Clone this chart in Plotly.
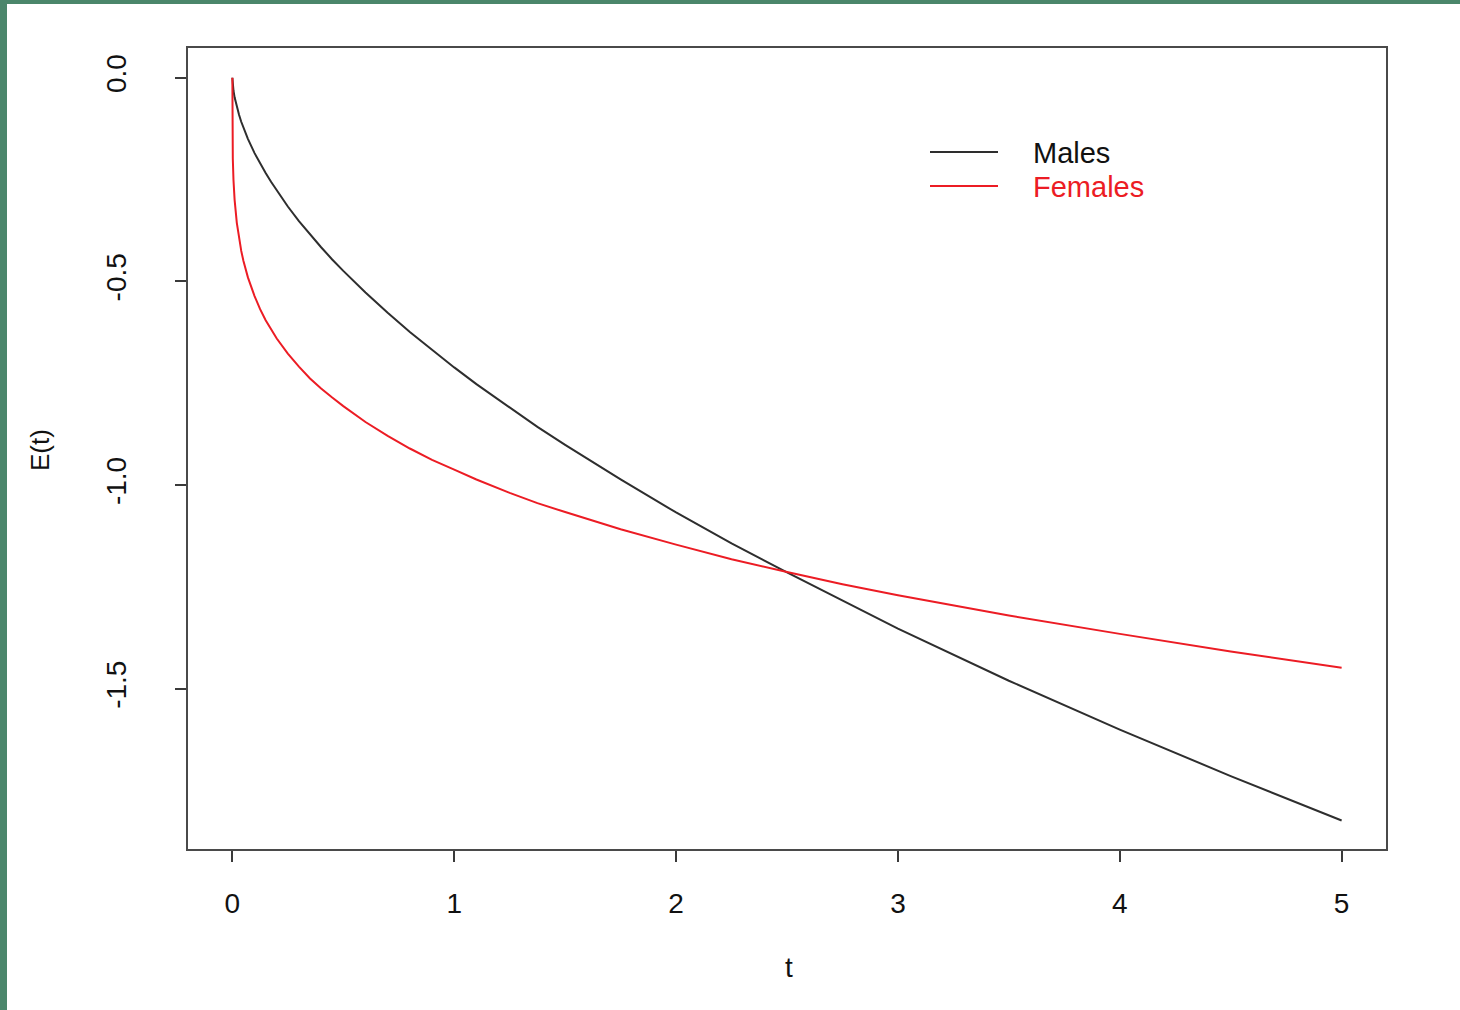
import plotly.graph_objects as go

# ---- data ----
t_vals = [0, 0.0005, 0.001, 0.002, 0.005, 0.01, 0.02, 0.03, 0.04, 0.05, 0.07, 0.1,
          0.125, 0.15, 0.175, 0.2, 0.25, 0.3, 0.35, 0.4, 0.45, 0.5, 0.6, 0.7, 0.8,
          0.9, 1.0, 1.1, 1.25, 1.375, 1.5, 1.75, 2.0, 2.25, 2.5, 2.75, 3.0, 3.5,
          4.0, 4.5, 5.0]
males = [0, -0.008, -0.012, -0.019, -0.032, -0.048, -0.072, -0.091, -0.108, -0.123,
         -0.150, -0.185, -0.211, -0.234, -0.256, -0.277, -0.316, -0.352, -0.385,
         -0.416, -0.446, -0.474, -0.527, -0.577, -0.624, -0.668, -0.711, -0.752,
         -0.810, -0.857, -0.901, -0.986, -1.067, -1.143, -1.214, -1.284, -1.352,
         -1.480, -1.600, -1.714, -1.823]
females = [0, -0.140, -0.167, -0.199, -0.251, -0.299, -0.356, -0.395, -0.425, -0.450,
           -0.490, -0.536, -0.568, -0.595, -0.619, -0.640, -0.677, -0.709, -0.738,
           -0.763, -0.785, -0.806, -0.845, -0.879, -0.910, -0.938, -0.962, -0.986,
           -1.019, -1.044, -1.066, -1.108, -1.146, -1.182, -1.213, -1.243, -1.270,
           -1.320, -1.365, -1.408, -1.448]
x_ticks = [0, 1, 2, 3, 4, 5]
x_tick_labels = ["0", "1", "2", "3", "4", "5"]
y_ticks = [0, -0.5, -1.0, -1.5]
y_tick_labels = ["0.0", "-0.5", "-1.0", "-1.5"]
series_names = ["Males", "Females"]

BLACK = "#2e2e2e"
RED = "#ec1c24"
FONT = "Liberation Sans"

W, H = 1460, 1010
L, R, T, B = 188, 74, 48, 161
PW, PH = W - L - R, H - T - B


def px(x):
    return (x - L) / PW


def py(y):
    return (H - B - y) / PH


fig = go.Figure()
fig.add_trace(go.Scatter(x=t_vals, y=males, mode="lines", name=series_names[0],
                         line=dict(color=BLACK, width=2), showlegend=False))
fig.add_trace(go.Scatter(x=t_vals, y=females, mode="lines", name=series_names[1],
                         line=dict(color=RED, width=2), showlegend=False))

axis_common = dict(showgrid=False, zeroline=False, showline=True, mirror=True,
                   linecolor="#4a4a4a", linewidth=2, ticks="outside", ticklen=11,
                   tickwidth=2, tickcolor="#3a3a3a",
                   tickfont=dict(family=FONT, size=28, color="#111111"))

fig.update_xaxes(range=[-0.2, 5.2], tickvals=x_ticks, ticktext=x_tick_labels,
                 ticklabelstandoff=17, **axis_common)
fig.update_yaxes(range=[-1.893, 0.073], tickvals=y_ticks, ticktext=y_tick_labels,
                 tickangle=-90, ticklabelstandoff=38, **axis_common)

shapes = [
    # green frame (left and top)
    dict(type="rect", xref="paper", yref="paper", x0=px(-2), x1=px(7), y0=py(1012), y1=py(-2),
         fillcolor="#4b866b", line=dict(width=0), layer="above"),
    dict(type="rect", xref="paper", yref="paper", x0=px(-2), x1=px(1462), y0=py(4), y1=py(-2),
         fillcolor="#4b866b", line=dict(width=0), layer="above"),
    # legend lines
    dict(type="line", xref="paper", yref="paper", x0=px(930), x1=px(998), y0=py(152), y1=py(152),
         line=dict(color=BLACK, width=2)),
    dict(type="line", xref="paper", yref="paper", x0=px(930), x1=px(998), y0=py(186), y1=py(186),
         line=dict(color=RED, width=2)),
]

annotations = [
    dict(text=series_names[0], xref="paper", yref="paper", x=px(1031), y=py(153),
         xanchor="left", yanchor="middle", showarrow=False,
         font=dict(family=FONT, size=29, color="#111111")),
    dict(text=series_names[1], xref="paper", yref="paper", x=px(1031), y=py(187),
         xanchor="left", yanchor="middle", showarrow=False,
         font=dict(family=FONT, size=29, color=RED)),
    dict(text="t", xref="paper", yref="paper", x=px(789), y=py(968),
         xanchor="center", yanchor="middle", showarrow=False,
         font=dict(family=FONT, size=28, color="#111111")),
    dict(text="E(t)", xref="paper", yref="paper", x=px(40), y=py(450),
         xanchor="center", yanchor="middle", showarrow=False, textangle=-90,
         font=dict(family=FONT, size=26, color="#111111")),
]

fig.update_layout(width=W, height=H, autosize=False,
                  margin=dict(l=L, r=R, t=T, b=B, pad=0),
                  paper_bgcolor="white", plot_bgcolor="white",
                  shapes=shapes, annotations=annotations, showlegend=False)

fig.write_html("out.html")
